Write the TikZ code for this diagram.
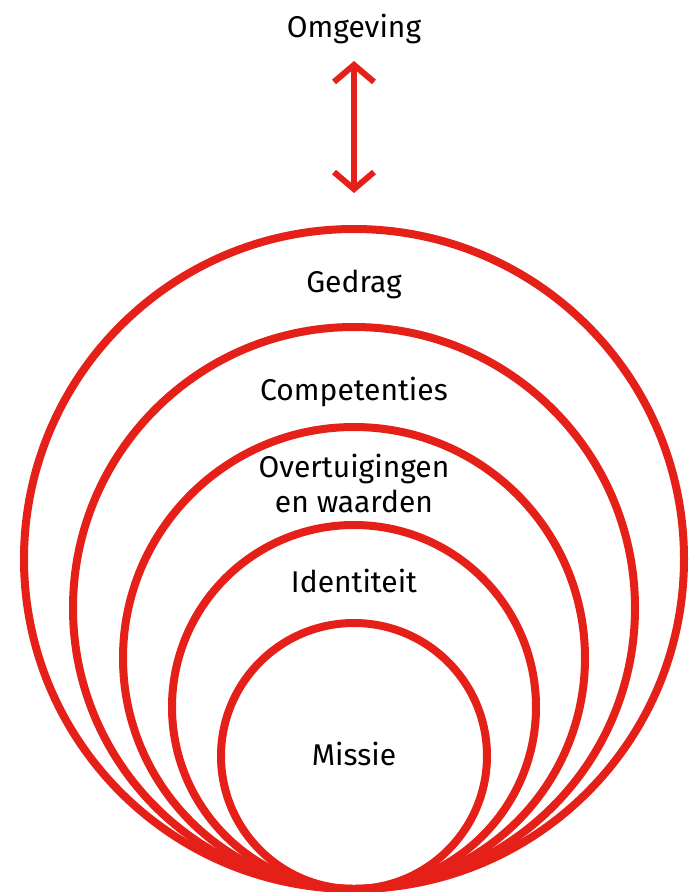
\documentclass[tikz,border=0pt]{standalone}
\usepackage{fontspec}
\setmainfont{Fira Sans}
\usetikzlibrary{arrows.meta, positioning}
\definecolor{ringred}{RGB}{228,32,24}

\begin{document}
\begin{tikzpicture}[x=1pt, y=-1pt,
  ring/.style={draw=ringred, line width=8pt},
  lbl/.style={anchor=base, align=center, inner sep=0pt, font=\fontsize{30}{35}\selectfont}]
\useasboundingbox (0,0) rectangle (693,892);

% Nested rings, all touching at the bottom
\foreach \r in {330, 281, 231, 182, 133} {
\draw[ring] (354,{889-\r}) circle[radius=\r];
}

% Labels, one per ring
\node[lbl] (omgeving) at (354,37) {Omgeving};
\node[lbl] (gedrag) at (354,292) {Gedrag};
\node[lbl] (competenties) at (354,400) {Competenties};
\node[lbl] (overtuigingen) at (354,512) {Overtuigingen\\en waarden};
\node[lbl] (identiteit) at (354,592) {Identiteit};
\node[lbl] (missie) at (354,765) {Missie};

% Exchange with the environment
\coordinate (envtop) at (354,61);
\coordinate (envbot) at (354,193);
\draw[ringred, line width=6pt,
  {Straight Barb[length=17pt, width=40pt]}-{Straight Barb[length=17pt, width=40pt]}]
  (envtop) -- (envbot);
\end{tikzpicture}
\end{document}
